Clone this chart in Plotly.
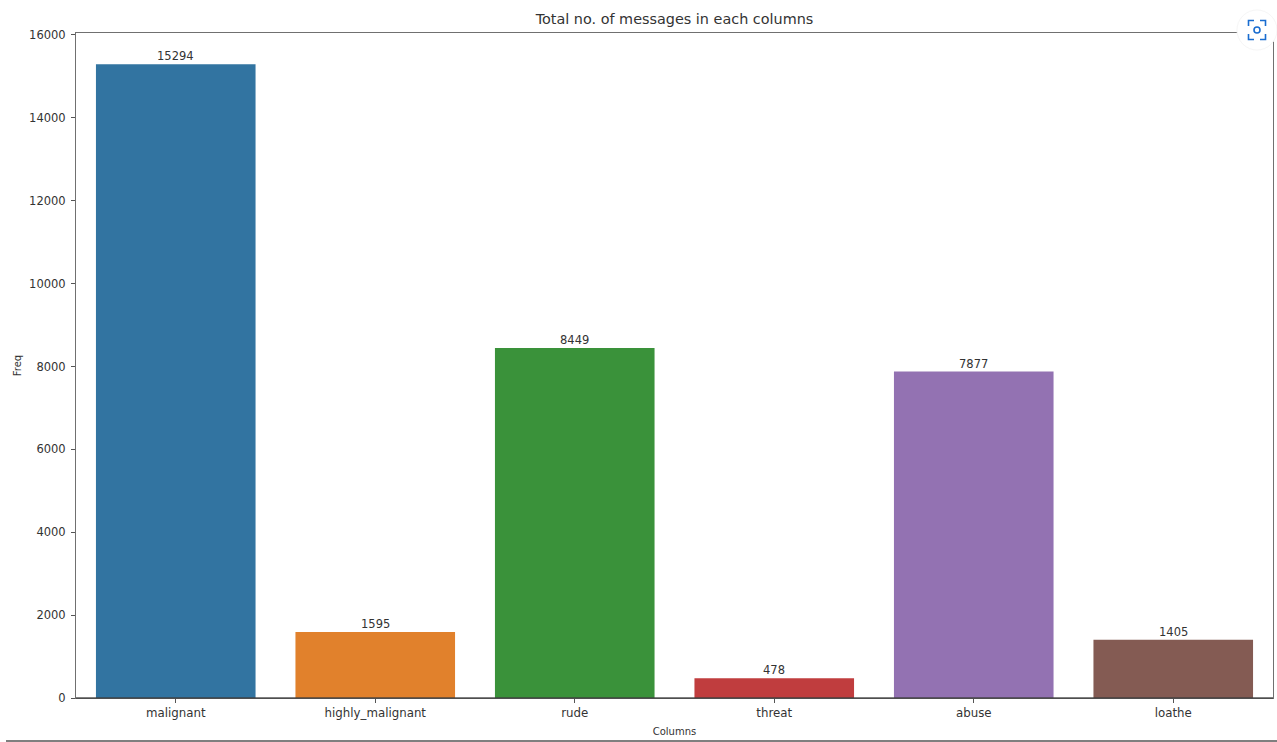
import plotly.graph_objects as go

categories = ["malignant", "highly_malignant", "rude", "threat", "abuse", "loathe"]
counts = [15294, 1595, 8449, 478, 7877, 1405]
bar_colors = ["#3274a1", "#e1812c", "#3a923a", "#c03d3e", "#9372b2", "#845b53"]
y_ticks = [0, 2000, 4000, 6000, 8000, 10000, 12000, 14000, 16000]

W, H = 1277, 742
L, R, T, B = 76, 1273, 33, 698
FONT = "DejaVu Sans"
INK = "#333333"
ICON = "#1a6dd0"


def px(x):
    return (x - L) / (R - L)


def py(y):
    return (B - y) / (B - T)


def bracket(xa, ya, xc, yc, xb, yb):
    return (f"M {px(xa)} {py(ya)} L {px(xc)} {py(yc)} L {px(xb)} {py(yb)}")


icon_paths = [
    bracket(1248.5, 26, 1248.5, 20.5, 1254, 20.5),
    bracket(1260, 20.5, 1265.5, 20.5, 1265.5, 26),
    bracket(1265.5, 34, 1265.5, 39.5, 1260, 39.5),
    bracket(1254, 39.5, 1248.5, 39.5, 1248.5, 34),
]

fig = go.Figure(go.Bar(
    x=categories, y=counts, width=0.8,
    marker=dict(color=bar_colors, line=dict(width=0)),
    cliponaxis=False, showlegend=False,
))
for cat, val in zip(categories, counts):
    fig.add_annotation(x=cat, y=val, text=str(val), showarrow=False, yanchor="middle", yshift=8,
                       font=dict(family=FONT, size=11.5, color=INK))

shapes = [
    dict(type="line", xref="paper", yref="paper", x0=0, x1=1, y0=py(698), y1=py(698), layer="above",
         line=dict(color="rgba(60,60,60,0.65)", width=2)),
    dict(type="line", xref="paper", yref="paper", x0=px(6), x1=px(W), y0=py(741), y1=py(741),
         line=dict(color="#555555", width=1.5)),
    dict(type="circle", xref="paper", yref="paper", x0=px(1237), x1=px(1277), y0=py(10), y1=py(50),
         layer="above", fillcolor="white", line=dict(color="#f6f6f6", width=1)),
    dict(type="circle", xref="paper", yref="paper", x0=px(1254), x1=px(1260), y0=py(27), y1=py(33),
         layer="above", fillcolor="white", line=dict(color=ICON, width=1.6)),
]
for p in icon_paths:
    shapes.append(dict(type="path", xref="paper", yref="paper", path=p, layer="above",
                       line=dict(color=ICON, width=1.6)))

fig.update_layout(
    width=W, height=H, autosize=False,
    margin=dict(l=L, r=W - R, t=T, b=H - B, pad=0),
    paper_bgcolor="white", plot_bgcolor="white",
    bargap=0.2,
    font=dict(family=FONT, size=12, color=INK),
    title=dict(text="Total no. of messages in each columns", x=(L + R) / 2 / W, xanchor="center",
               y=1 - 19 / H, yanchor="middle", font=dict(size=14.4, color=INK)),
    xaxis=dict(title=dict(text="Columns", font=dict(size=10), standoff=8), showgrid=False, ticks="outside",
               ticklen=4, tickcolor="#555555", showline=True, linecolor="#707070", linewidth=1,
               mirror=True, range=[-0.5, 5.5], tickfont=dict(size=11.8), zeroline=False),
    yaxis=dict(title=dict(text="Freq", font=dict(size=10), standoff=5), showgrid=False, ticks="outside",
               ticklen=4, tickcolor="#555555", showline=True, linecolor="#707070", linewidth=1,
               mirror=True, range=[0, 16048], tickvals=y_ticks, tickformat="d",
               ticklabelstandoff=3, tickfont=dict(size=11.5), zeroline=False),
    shapes=shapes,
)
fig.write_html("out.html", post_script="document.body.style.margin='0';", config={"displayModeBar": False})
